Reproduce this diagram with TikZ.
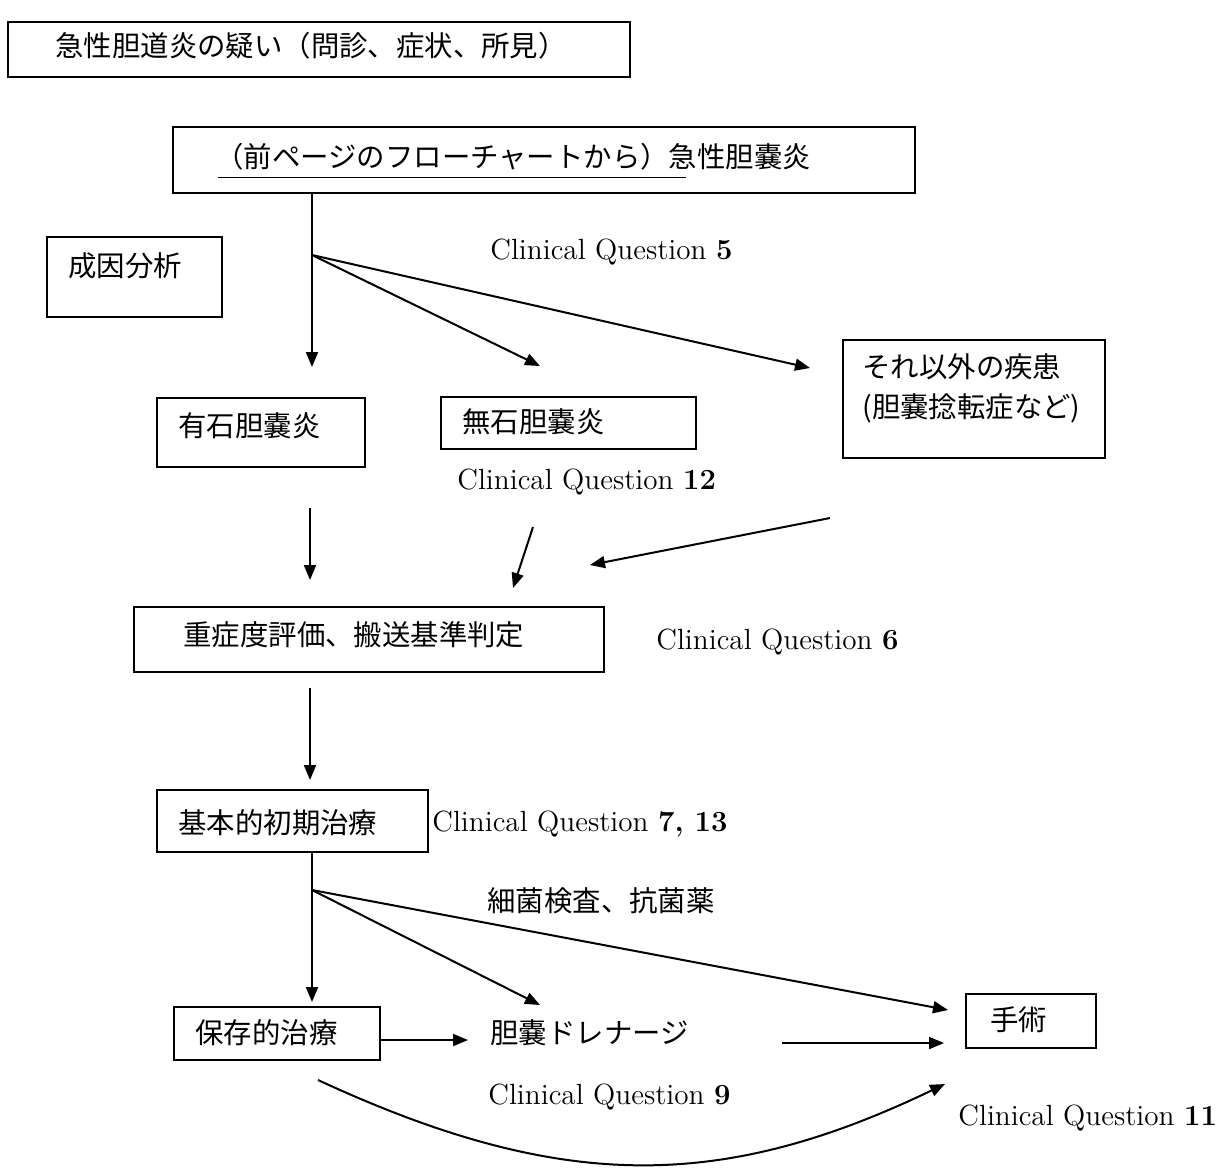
\documentclass[tikz,border=0pt]{standalone}
\usepackage{fontspec}
\newfontfamily\jpfont{Noto Sans CJK JP}
\usetikzlibrary{arrows.meta}

\tikzset{
  box/.style={line width=0.8pt},
  jp/.style={font=\jpfont\fontsize{14.2}{20}\selectfont,inner sep=0pt,anchor=west},
  cq/.style={font=\fontsize{14.6}{17}\selectfont,inner sep=0pt,anchor=west},
  arr/.style={line width=1pt,-{Triangle[length=7.5pt,width=6pt]}}
}

\begin{document}
\begin{tikzpicture}[x=0.5pt,y=-0.5pt]
\useasboundingbox (0,0) rectangle (1220,1169);
% boxes and their texts
\draw[box] (8,22) rectangle (630,77);
\node[jp] (suspect) at (55,46) {急性胆道炎の疑い（問診、症状、所見）};
\draw[box] (173,127) rectangle (915,193);
\node[jp] (acute) at (215,157) {（前ページのフローチャートから）急性胆嚢炎};
\draw[line width=0.4pt] (218,177) -- (686,177);
\draw[box] (47,237) rectangle (222,317);
\node[jp] (cause) at (68,266) {成因分析};
\draw[box] (157,398) rectangle (365,467);
\node[jp] (stone) at (178,426) {有石胆嚢炎};
\draw[box] (441,397) rectangle (696,449);
\node[jp] (nostone) at (462,422) {無石胆嚢炎};
\draw[box] (843,340) rectangle (1105,458);
\node[jp,align=left] (other) at (862,388) {それ以外の疾患\\(胆嚢捻転症など)};
\draw[box] (134,607) rectangle (604,672);
\node[jp] (grade) at (183,635) {重症度評価、搬送基準判定};
\draw[box] (157,790) rectangle (428,852);
\node[jp] (initial) at (178,823) {基本的初期治療};
\draw[box] (174,1007) rectangle (380,1060);
\node[jp] (conserv) at (195,1033) {保存的治療};
\draw[box] (966,994) rectangle (1096,1048);
\node[jp] (surgery) at (990,1020) {手術};
% free texts
\node[jp] (drain) at (490,1033) {胆嚢ドレナージ};
\node[jp] (bact) at (487,901) {細菌検査、抗菌薬};
\node[cq] (cq5) at (490,252) {Clinical Question \textbf{5}};
\node[cq] (cq12) at (457,482) {Clinical Question \textbf{12}};
\node[cq] (cq6) at (656,642) {Clinical Question \textbf{6}};
\node[cq] (cq7) at (432,824) {Clinical Question \textbf{7, 13}};
\node[cq] (cq9) at (488,1097) {Clinical Question \textbf{9}};
\node[cq] (cq11) at (958,1118) {Clinical Question \textbf{11}};
% arrow ends
\coordinate (acuteB) at (312,193);
\coordinate (fanA) at (312,255);
\coordinate (fanAdown) at (312,367);
\coordinate (fanAmid) at (540,366);
\coordinate (fanAright) at (810,368);
\coordinate (stoneS) at (310,508);
\coordinate (stoneE) at (310,580);
\coordinate (nostoneS) at (533,527);
\coordinate (nostoneE) at (513,588);
\coordinate (otherS) at (830,518);
\coordinate (otherE) at (590,565);
\coordinate (gradeS) at (310,688);
\coordinate (gradeE) at (310,780);
\coordinate (initialB) at (312,852);
\coordinate (fanB) at (312,890);
\coordinate (fanBdown) at (312,1002);
\coordinate (fanBmid) at (540,1005);
\coordinate (fanBright) at (948,1010);
\coordinate (conservR) at (380,1040);
\coordinate (drainL) at (468,1040);
\coordinate (drainS) at (782,1043);
\coordinate (drainE) at (944,1043);
\coordinate (curveS) at (318,1080);
\coordinate (curveE) at (945,1084);
% connectors
\draw[line width=1pt] (acuteB) -- (fanA);
\draw[arr] (fanA) -- (fanAdown);
\draw[arr] (fanA) -- (fanAmid);
\draw[arr] (fanA) -- (fanAright);
\draw[arr] (stoneS) -- (stoneE);
\draw[arr] (nostoneS) -- (nostoneE);
\draw[arr] (otherS) -- (otherE);
\draw[arr] (gradeS) -- (gradeE);
\draw[line width=1pt] (initialB) -- (fanB);
\draw[arr] (fanB) -- (fanBdown);
\draw[arr] (fanB) -- (fanBmid);
\draw[arr] (fanB) -- (fanBright);
\draw[arr] (conservR) -- (drainL);
\draw[arr] (drainS) -- (drainE);
\draw[arr] (curveS) .. controls (560,1192) and (720,1192) .. (curveE);
\end{tikzpicture}
\end{document}
